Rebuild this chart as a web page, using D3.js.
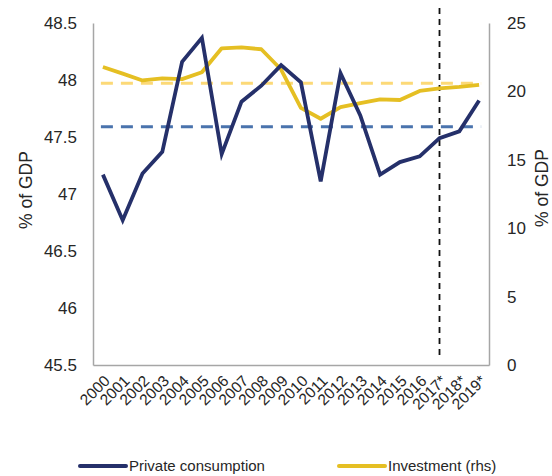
<!DOCTYPE html>
<html>
<head>
<meta charset="utf-8">
<script src="https://cdn.jsdelivr.net/npm/d3@7"></script>
<style>
  body { margin: 0; background: #fff; }
  text { font-family: "Liberation Sans", Arial, sans-serif; fill: #262626; }
</style>
</head>
<body>
<div id="chart"></div>
<script>
var svgWidth = 552;
var svgHeight = 476;

var margin = { top: 23, right: 63, bottom: 111, left: 93 };
var width = svgWidth - margin.left - margin.right;
var height = svgHeight - margin.top - margin.bottom;

// data
var years = ["2000", "2001", "2002", "2003", "2004", "2005", "2006", "2007", "2008", "2009",
  "2010", "2011", "2012", "2013", "2014", "2015", "2016", "2017*", "2018*", "2019*"];
var consumption = [47.17, 46.77, 47.18, 47.37, 48.16, 48.37, 47.35, 47.81, 47.95, 48.13,
  47.98, 47.11, 48.06, 47.69, 47.17, 47.28, 47.33, 47.49, 47.55, 47.82];
var investment = [21.78, 21.3, 20.8, 20.95, 20.9, 21.4, 23.15, 23.22, 23.08, 21.6,
  18.8, 18.0, 18.85, 19.15, 19.42, 19.37, 20.03, 20.22, 20.33, 20.48];
var consumptionAvg = 47.59;
var investmentAvg = 20.6;
var forecastStart = "2017*";
var leftTicks = [45.5, 46, 46.5, 47, 47.5, 48, 48.5];
var rightTicks = [0, 5, 10, 15, 20, 25];

var svg = d3.select("#chart")
  .append("svg")
  .attr("width", svgWidth)
  .attr("height", svgHeight);

var chartGroup = svg.append("g")
  .attr("transform", `translate(${margin.left}, ${margin.top})`);

var xScale = d3.scaleBand()
  .domain(years)
  .range([0, width]);

var xPos = d => xScale(d) + xScale.bandwidth() / 2;

var yLeft = d3.scaleLinear()
  .domain([45.5, 48.5])
  .range([height, 0]);

var yRight = d3.scaleLinear()
  .domain([0, 25])
  .range([height, 0]);

// axes
var leftAxis = d3.axisLeft(yLeft).tickValues(leftTicks).tickSize(0).tickPadding(16)
  .tickFormat(d3.format("~g"));
var rightAxis = d3.axisRight(yRight).tickValues(rightTicks).tickSize(0).tickPadding(18);
var bottomAxis = d3.axisBottom(xScale).tickSize(0).tickPadding(0);

var gl = chartGroup.append("g").call(leftAxis);
var gr = chartGroup.append("g").attr("transform", `translate(${width}, 0)`).call(rightAxis);
var gb = chartGroup.append("g").attr("transform", `translate(0, ${height})`).call(bottomAxis);

[gl, gr, gb].forEach(function(g) {
  g.select(".domain").attr("stroke", "#a6a6a6").attr("stroke-width", 1.5);
  g.selectAll("text").attr("font-size", "17px").attr("fill", "#262626")
    .attr("font-family", "Liberation Sans, Arial, sans-serif");
});

// rotated year labels, ending just right of each point
gb.selectAll("text")
  .attr("font-size", "15.5px")
  .attr("text-anchor", "end")
  .attr("y", 0)
  .attr("dy", "0.35em")
  .attr("transform", "translate(4, 13) rotate(-45)");

// average lines
chartGroup.append("line")
  .attr("x1", xPos(years[0]) - 2)
  .attr("x2", xPos(years[years.length - 1]) + 2)
  .attr("y1", yRight(investmentAvg))
  .attr("y2", yRight(investmentAvg))
  .attr("stroke", "#fcd977")
  .attr("stroke-width", 3)
  .attr("stroke-dasharray", "12,8");

chartGroup.append("line")
  .attr("x1", xPos(years[0]) - 2)
  .attr("x2", xPos(years[years.length - 1]) + 2)
  .attr("y1", yLeft(consumptionAvg))
  .attr("y2", yLeft(consumptionAvg))
  .attr("stroke", "#4a73ad")
  .attr("stroke-width", 3)
  .attr("stroke-dasharray", "12,8");

// forecast marker
chartGroup.append("line")
  .attr("x1", xPos(forecastStart))
  .attr("x2", xPos(forecastStart))
  .attr("y1", -15)
  .attr("y2", height - 10)
  .attr("stroke", "#111")
  .attr("stroke-width", 1.8)
  .attr("stroke-dasharray", "6,5");

// series
var line = d3.line();

chartGroup.append("path")
  .attr("d", line(years.map((d, i) => [xPos(d), yRight(investment[i])])))
  .attr("fill", "none")
  .attr("stroke", "#e5bf23")
  .attr("stroke-width", 3.8)
  .attr("stroke-linejoin", "round");

chartGroup.append("path")
  .attr("d", line(years.map((d, i) => [xPos(d), yLeft(consumption[i])])))
  .attr("fill", "none")
  .attr("stroke", "#25306a")
  .attr("stroke-width", 3.8)
  .attr("stroke-linejoin", "miter");

// axis titles
svg.append("text")
  .attr("transform", "translate(32, 190) rotate(-90)")
  .attr("text-anchor", "middle")
  .attr("font-size", "17.5px")
  .text("% of GDP");

svg.append("text")
  .attr("transform", "translate(548, 188) rotate(-90)")
  .attr("text-anchor", "middle")
  .attr("font-size", "17.5px")
  .text("% of GDP");

// legend
var legendItems = [
  { label: "Private consumption", color: "#25306a", x: 80 },
  { label: "Investment (rhs)", color: "#e5bf23", x: 339 }
];

var legend = svg.selectAll(".legend")
  .data(legendItems)
  .enter()
  .append("g")
  .attr("transform", d => `translate(${d.x}, 466)`);

legend.append("line")
  .attr("x1", 0).attr("x2", 46)
  .attr("stroke", d => d.color)
  .attr("stroke-width", 4)
  .attr("stroke-linecap", "round");

legend.append("text")
  .attr("x", 49)
  .attr("dy", "0.35em")
  .attr("font-size", "15px")
  .text(d => d.label);
</script>
</body>
</html>
